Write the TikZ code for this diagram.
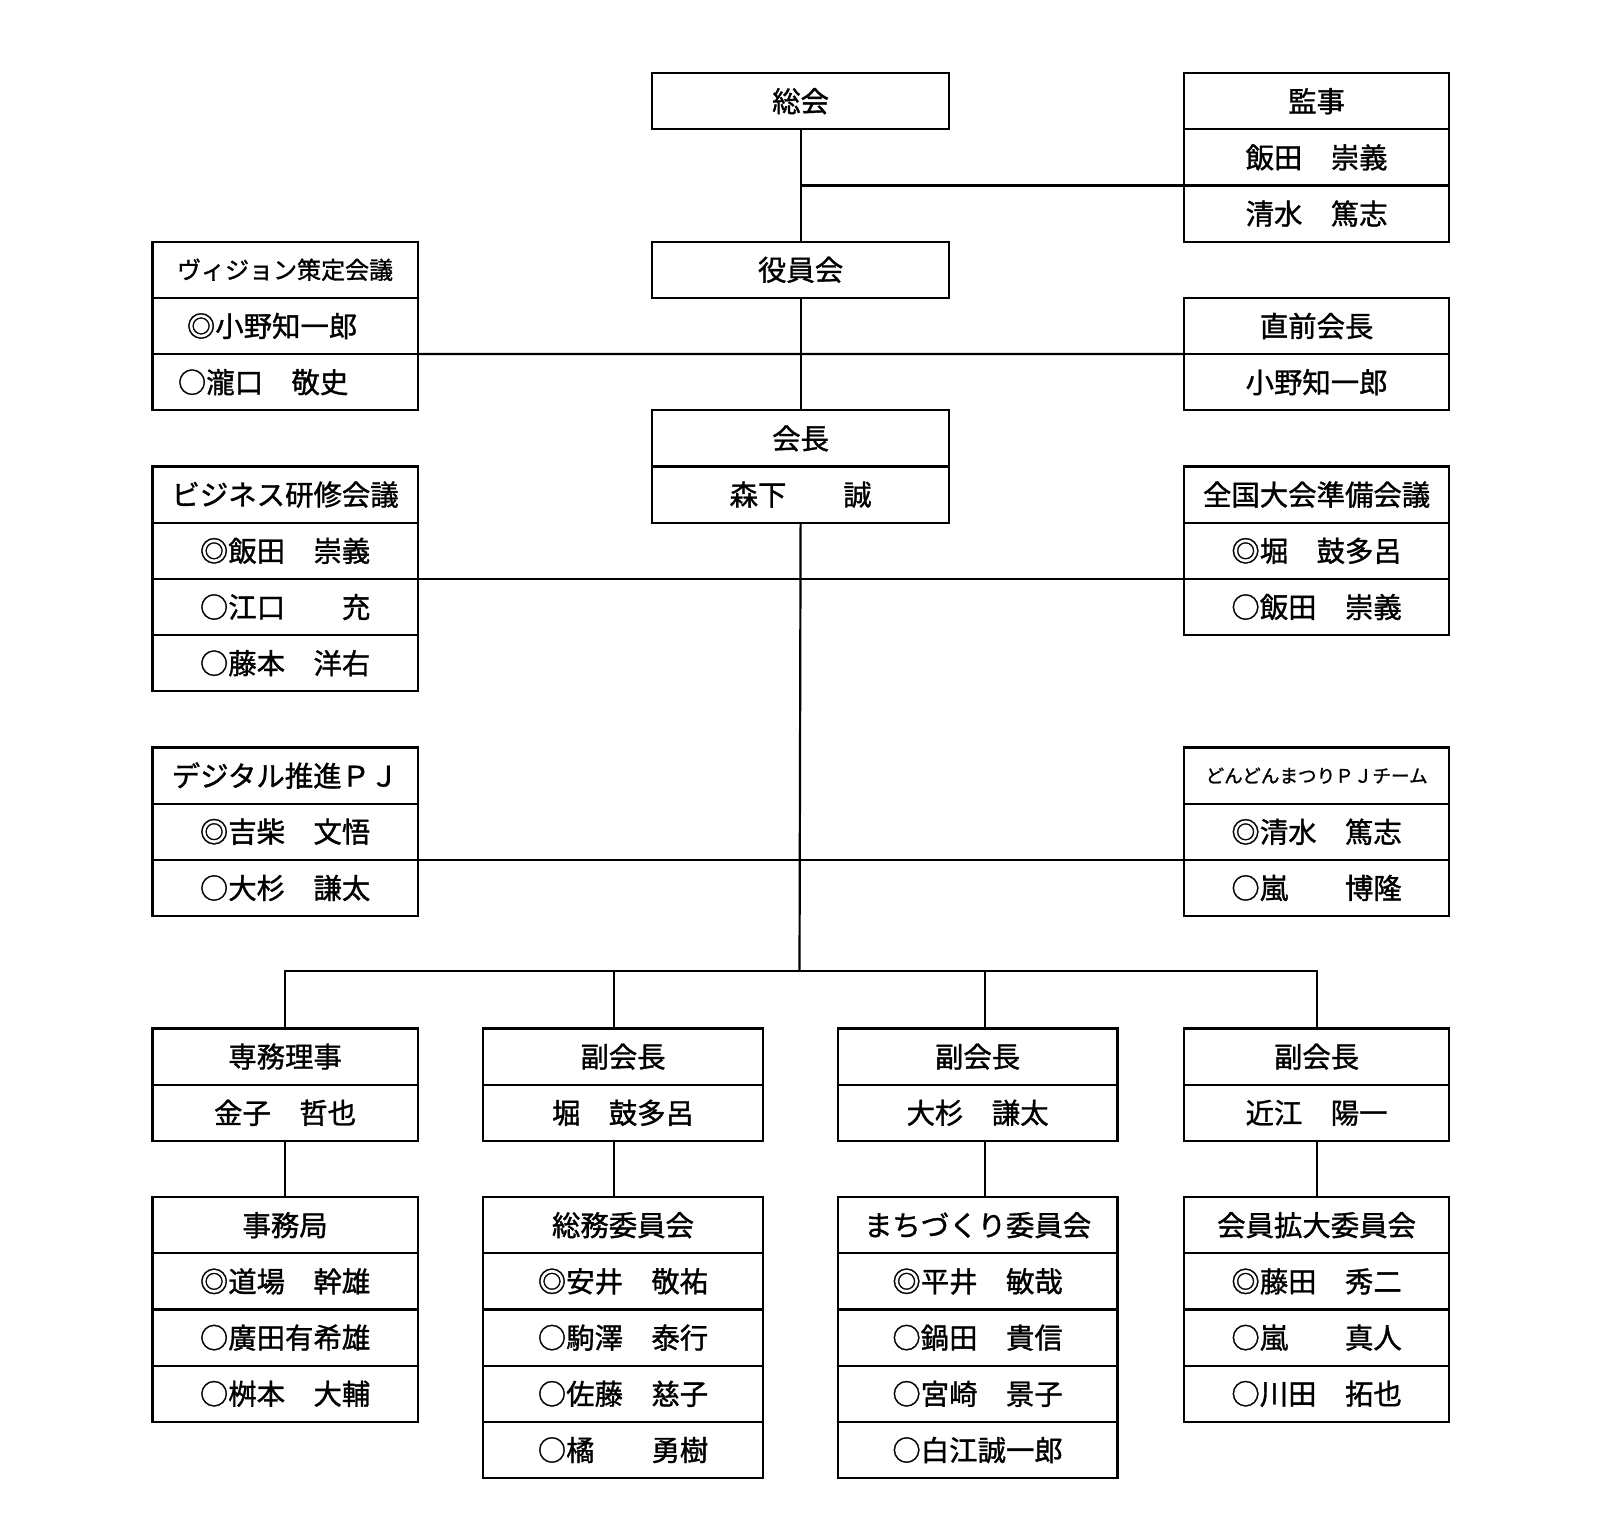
\documentclass[tikz,border=0pt]{standalone}
\usepackage{fontspec}
\setmainfont{Noto Sans CJK JP}[FakeBold=1.2]
\usetikzlibrary{matrix, positioning}

\begin{document}
\begin{tikzpicture}[x=0.5pt, y=-0.5pt, line width=1.1pt,
  c/.style={draw, minimum height=28.1pt, inner sep=1pt, outer sep=0pt, font=\fontsize{14.2pt}{17pt}\selectfont},
  s/.style={font=\fontsize{12pt}{14pt}\selectfont},
  t/.style={font=\fontsize{9.3pt}{11pt}\selectfont},
  m/.style={matrix of nodes, row sep=-1.1pt, inner sep=0pt, outer sep=0pt, anchor=north west, nodes={c, minimum width=#1}}]
  \path[fill=white, use as bounding box] (0,0) rectangle (1600,1524);
  % top part
  \matrix (soukai) [m=148.5pt] at (651,72) {総会\\};
  \matrix (kanji) [m=132.5pt] at (1183,72) {監事\\ 飯田　崇義\\ 清水　篤志\\};
  \matrix (yakuin) [m=148.5pt] at (651,240.6) {役員会\\};
  \matrix (vision) [m=132.5pt] at (151.5,240.6) {|[s]|ヴィジョン策定会議\\ \hspace*{-13pt}◎小野知一郎\\ \hspace*{-22pt}○瀧口　敬史\\};
  \matrix (zenkai) [m=132.5pt] at (1183,296.8) {直前会長\\ 小野知一郎\\};
  \matrix (kaicho) [m=148.5pt] at (651,409.2) {会長\\ 森下　　誠\\};
  \matrix (business) [m=132.5pt] at (151.5,465.4) {ビジネス研修会議\\ ◎飯田　崇義\\ ○江口　　充\\ ○藤本　洋右\\};
  \matrix (zenkoku) [m=132.5pt] at (1183,465.4) {全国大会準備会議\\ ◎堀　鼓多呂\\ ○飯田　崇義\\};
  \matrix (digital) [m=132.5pt] at (151.5,746.4) {デジタル推進ＰＪ\\ ◎吉柴　文悟\\ ○大杉　謙太\\};
  \matrix (dondon) [m=132.5pt] at (1183,746.4) {|[t]|どんどんまつりＰＪチーム\\ ◎清水　篤志\\ ○嵐　　博隆\\};
  % bottom part
  \matrix (senmu) [m=132.5pt] at (151.5,1027.4) {専務理事\\ 金子　哲也\\};
  \matrix (fuku1) [m=140.3pt] at (481.6,1027.4) {副会長\\ 堀　鼓多呂\\};
  \matrix (fuku2) [m=139.8pt] at (836.7,1027.4) {副会長\\ 大杉　謙太\\};
  \matrix (fuku3) [m=132.5pt] at (1183,1027.4) {副会長\\ 近江　陽一\\};
  \matrix (jimu) [m=132.5pt] at (151.5,1196) {事務局\\ ◎道場　幹雄\\ ○廣田有希雄\\ ○桝本　大輔\\};
  \matrix (soumu) [m=140.3pt] at (481.6,1196) {総務委員会\\ ◎安井　敬祐\\ ○駒澤　泰行\\ ○佐藤　慈子\\ ○橘　　勇樹\\};
  \matrix (machi) [m=139.8pt] at (836.7,1196) {まちづくり委員会\\ ◎平井　敏哉\\ ○鍋田　貴信\\ ○宮崎　景子\\ ○白江誠一郎\\};
  \matrix (kakudai) [m=132.5pt] at (1183,1196) {会員拡大委員会\\ ◎藤田　秀二\\ ○嵐　　真人\\ ○川田　拓也\\};
  % lines
  \draw (soukai-1-1.south) -- (yakuin-1-1.north);
  \draw (kanji-2-1.south west) -- (kanji-2-1.south west -| soukai-1-1.south);
  \draw (yakuin-1-1.south) -- (kaicho-1-1.north);
  \draw (vision-2-1.south east) -- (zenkai-1-1.south west);
  \draw (business-2-1.south east) -- (zenkoku-2-1.south west);
  \draw (digital-2-1.south east) -- (dondon-2-1.south west);
  \coordinate (bus) at (799.5,971.2);
  \coordinate (f1) at (614.3,971.2);
  \coordinate (f2) at (985,971.2);
  \draw (kaicho-2-1.south) -- (bus);
  \draw (senmu-1-1.north) |- (fuku3-1-1.north |- bus) -- (fuku3-1-1.north);
  \draw (f1) -- (f1 |- fuku1-1-1.north);
  \draw (f2) -- (f2 |- fuku2-1-1.north);
  \draw (senmu-2-1.south) -- (jimu-1-1.north);
  \draw (f1 |- fuku1-2-1.south) -- (f1 |- soumu-1-1.north);
  \draw (f2 |- fuku2-2-1.south) -- (f2 |- machi-1-1.north);
  \draw (fuku3-2-1.south) -- (kakudai-1-1.north);
\end{tikzpicture}
\end{document}
